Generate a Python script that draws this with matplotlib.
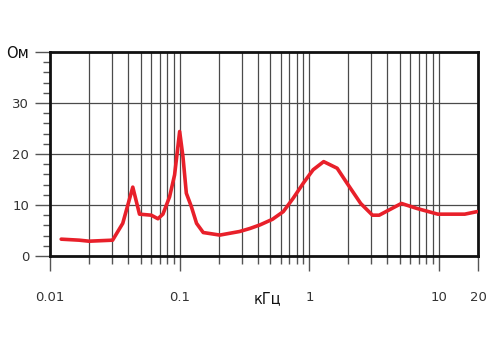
import numpy as np
import matplotlib.pyplot as plt
from matplotlib.ticker import FixedLocator, NullFormatter

plt.rcParams['font.family'] = "DejaVu Sans"
plt.rcParams['font.size'] = 9

# impedance curve
freq_khz = [0.0122, 0.0168, 0.020, 0.0304, 0.0364, 0.0435, 0.049, 0.0604, 0.068,
            0.0743, 0.0836, 0.0914, 0.100, 0.106, 0.1126, 0.123, 0.135, 0.152,
            0.204, 0.29, 0.349, 0.417, 0.52, 0.63, 0.75, 0.90, 1.07, 1.29, 1.64,
            1.95, 2.49, 3.07, 3.46, 5.13, 6.8, 9.8, 15.8, 19.7]
impedance = [3.3, 3.1, 2.9, 3.1, 6.4, 13.5, 8.2, 8.0, 7.3,
             8.2, 11.6, 15.9, 24.4, 19.5, 12.3, 9.7, 6.4, 4.6,
             4.1, 4.8, 5.4, 6.1, 7.2, 8.7, 11.3, 14.3, 16.9, 18.5, 17.2,
             14.3, 10.3, 8.0, 8.0, 10.3, 9.3, 8.2, 8.2, 8.7]

x_major = [0.01, 0.1, 1, 10, 20]
x_labels = ['0.01', '0.1', '1', '10', '20']
y_major = [0, 10, 20, 30, 40]
y_labels = ['0', '10', '20', '30', 'Ом']

fig = plt.figure(figsize=(5, 3.5), dpi=100)
ax = fig.add_axes([0.1, 0.2686, 0.856, 0.583])

x_minor = [m * 10.0 ** k for k in range(-2, 2) for m in range(2, 10)]
x_minor = [v for v in x_minor if v < 20]
for v in x_minor + [0.1, 1, 10]:
    ax.axvline(v, color='#4a4a4a', lw=0.9, zorder=1)
for v in [10, 20, 30]:
    ax.axhline(v, color='#4a4a4a', lw=0.9, zorder=1)

ax.plot(freq_khz, impedance, color='#e8202a', lw=2.6, solid_joinstyle='round',
        solid_capstyle='round', zorder=3)

ax.set_xscale('log')
ax.set_xlim(0.01, 20)
ax.set_ylim(0, 40)

ax.xaxis.set_major_locator(FixedLocator(x_major))
ax.set_xticklabels(x_labels)
ax.xaxis.set_minor_locator(FixedLocator(x_minor))
ax.xaxis.set_minor_formatter(NullFormatter())
ax.set_yticks(y_major)
ax.set_yticklabels(y_labels)
ax.yaxis.set_minor_locator(FixedLocator(np.arange(0, 40, 2)))

ax.tick_params(axis='x', which='major', length=11, width=1, color='#555555',
               pad=14, labelcolor='#333333', labelsize=9.5)
ax.tick_params(axis='x', which='minor', length=6, width=1, color='#555555')
ax.tick_params(axis='y', which='major', length=11, width=1, color='#555555',
               pad=4, labelcolor='#333333', labelsize=9.5)
ax.tick_params(axis='y', which='minor', length=5, width=1, color='#555555')
ax.get_yticklabels()[-1].set_color('#111111')
ax.get_yticklabels()[-1].set_fontsize(10.5)

for s in ax.spines.values():
    s.set_linewidth(2)
    s.set_color('#111111')

fig.text(0.535, 0.148, 'кГц', fontsize=10.5, color='#111111', ha='center', va='center')

fig.savefig('out.png', dpi=100)
